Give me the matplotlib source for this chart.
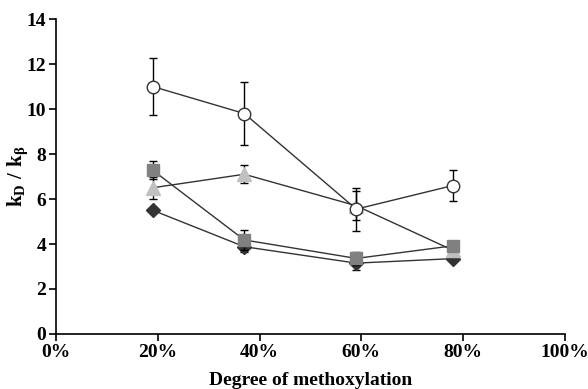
import numpy as np
import matplotlib.pyplot as plt

plt.rcParams['font.family'] = 'Liberation Serif'
plt.rcParams['font.weight'] = 'bold'
plt.rcParams['mathtext.fontset'] = 'custom'
plt.rcParams['mathtext.rm'] = 'Liberation Serif:bold'
plt.rcParams['mathtext.it'] = 'Liberation Serif:bold'
plt.rcParams['mathtext.bf'] = 'Liberation Serif:bold'

x = [19, 37, 59, 78]

circle = [11.0, 9.8, 5.55, 6.6]
circle_err = [1.27, 1.4, 0.95, 0.67]
square = [7.28, 4.18, 3.36, 3.92]
square_err = [0.4, 0.45, 0.3, 0.15]
triangle = [6.5, 7.1, 5.7, 3.72]
triangle_err = [0.5, 0.4, 0.65, 0.15]
diamond = [5.5, 3.88, 3.15, 3.35]
diamond_err = [0.1, 0.25, 0.3, 0.1]

xticks = [0, 20, 40, 60, 80, 100]
xticklabels = ['0%', '20%', '40%', '60%', '80%', '100%']
yticks = [0, 2, 4, 6, 8, 10, 12, 14]

fig = plt.figure(figsize=(5.88, 3.89), dpi=100)
ax = fig.add_axes([0.0952, 0.1414, 0.8656, 0.8097])

line = '#333333'
# diamond series
ax.errorbar(x, diamond, yerr=diamond_err, color=line, lw=1, ecolor='black',
            elinewidth=1, capsize=3, marker='D', ms=7, mfc='#333333', mec='#333333', zorder=2)
# triangle series
ax.errorbar(x, triangle, yerr=triangle_err, color=line, lw=1, ecolor='black',
            elinewidth=1, capsize=3, marker='^', ms=10, mfc='#c0c0c0', mec='#c0c0c0', zorder=3)
# square series
ax.errorbar(x, square, yerr=square_err, color=line, lw=1, ecolor='black',
            elinewidth=1, capsize=3, marker='s', ms=9, mfc='#808080', mec='#808080', zorder=4)
# circle series
ax.errorbar(x, circle, yerr=circle_err, color=line, lw=1, ecolor='black',
            elinewidth=1, capsize=3, marker='o', ms=9, mfc='white', mec='#333333', zorder=5)

ax.set_xlim(0, 100)
ax.set_ylim(0, 14)
ax.set_xticks(xticks)
ax.set_xticklabels(xticklabels)
ax.set_yticks(yticks)
ax.spines['top'].set_visible(False)
ax.spines['right'].set_visible(False)
for s in ['left', 'bottom']:
    ax.spines[s].set_linewidth(1.2)
    ax.spines[s].set_clip_on(False)
ax.tick_params(direction='out', length=5, width=1.2, labelsize=14, pad=2)
for lab in ax.get_xticklabels() + ax.get_yticklabels():
    lab.set_fontweight('bold')

ax.set_xlabel('Degree of methoxylation', fontsize=14, fontweight='bold', labelpad=8)
ax.set_ylabel(r'$\mathbf{k_D\ /\ k_\beta}$', fontsize=15)
ax.yaxis.set_label_coords(-0.052, 0.5)

fig.savefig('out.png', dpi=100)
